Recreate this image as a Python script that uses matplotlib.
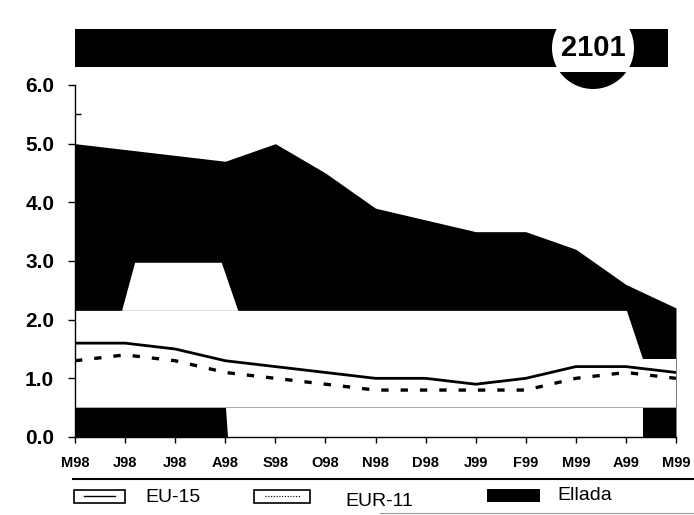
import matplotlib
matplotlib.use("Agg")
import matplotlib.pyplot as plt
from matplotlib.patches import Rectangle, Ellipse, Polygon
from matplotlib.lines import Line2D

plt.rcParams["font.family"] = ["Liberation Sans", "DejaVu Sans"]

months = ["M98", "J98", "J98", "A98", "S98", "O98", "N98", "D98",
          "J99", "F99", "M99", "A99", "M99"]
ellada = [5.0, 4.9, 4.8, 4.7, 5.0, 4.5, 3.9, 3.7, 3.5, 3.5, 3.2, 2.6, 2.2]
eu15 = [1.6, 1.6, 1.5, 1.3, 1.2, 1.1, 1.0, 1.0, 0.9, 1.0, 1.2, 1.2, 1.1]
eur11 = [1.3, 1.4, 1.3, 1.1, 1.0, 0.9, 0.8, 0.8, 0.8, 0.8, 1.0, 1.1, 1.0]
badge = "2101"

W, H = 694, 515
fig = plt.figure(figsize=(W / 100, H / 100), dpi=100)


def fx(px):
    return px / W


def fy(py):
    return 1 - py / H


ax = fig.add_axes([fx(75), fy(437), fx(676) - fx(75), fy(85) - fy(437)])
x = list(range(len(months)))

# Ellada as a solid black area
ax.fill_between(x, 0, ellada, color="black", lw=0, zorder=1)

# white patches left by the scan over the black area
ax.add_patch(Polygon([(0, 0.5), (12.2, 0.5), (12.2, 1.33), (11.34, 1.33),
                      (11.02, 2.15), (0, 2.15)], closed=True, fc="white", ec="none", zorder=2))
ax.add_patch(Polygon([(3.05, 0), (11.34, 0), (11.34, 0.5), (3.02, 0.5)],
                     closed=True, fc="white", ec="none", zorder=2))
ax.add_patch(Polygon([(0.94, 2.15), (3.26, 2.15), (2.93, 2.97), (1.2, 2.97)],
                     closed=True, fc="white", ec="none", zorder=2))

ax.plot(x, eu15, color="black", lw=2.0, zorder=3)
ax.plot(x, eur11, color="black", lw=2.4, dashes=(2.2, 3.6), zorder=3)

ax.set_xlim(0, 12)
ax.set_ylim(0, 6)
ax.set_yticks([0, 1, 2, 3, 4, 5, 6])
ax.set_yticklabels([f"{v:.1f}" for v in range(7)])
ax.set_yticks([0.5, 1.5, 2.5, 3.5, 4.5, 5.5], minor=True)
ax.set_xticks(x)
ax.set_xticklabels(months)
for s in ["top", "right"]:
    ax.spines[s].set_visible(False)
for s in ["left", "bottom"]:
    ax.spines[s].set_linewidth(1.0)
    ax.spines[s].set_zorder(4)
ax.tick_params(axis="y", which="major", direction="out", length=5, width=1,
               labelsize=15, pad=10)
ax.tick_params(axis="y", which="minor", direction="in", length=4, width=1)
ax.tick_params(axis="x", direction="out", length=4, width=1, labelsize=10.5, pad=10)
for lab in ax.get_xticklabels() + ax.get_yticklabels():
    lab.set_fontweight("bold")

# banner at the top with the page badge
fig.add_artist(Rectangle((fx(75), fy(67)), fx(668) - fx(75), fy(29) - fy(67),
                         transform=fig.transFigure, fc="black", ec="none"))
circ = Ellipse((fx(593), fy(48)), fx(82), 82 / H, transform=fig.transFigure,
               fc="white", ec="none")
fig.add_artist(circ)
seg = Rectangle((fx(550), fy(90)), fx(90), fy(72) - fy(90),
                transform=fig.transFigure, fc="black", ec="none")
fig.add_artist(seg)
seg.set_clip_path(circ)
fig.text(fx(593), fy(48), badge, ha="center", va="center",
         fontsize=21, fontweight="bold")

# legend
fig.add_artist(Line2D([fx(73), fx(694)], [fy(479), fy(479)], color="black", lw=1.5))
fig.add_artist(Line2D([fx(380), fx(694)], [fy(513), fy(513)], color="#999999", lw=0.8))
fig.add_artist(Rectangle((fx(74), fy(503)), fx(51), fy(490) - fy(503),
                         transform=fig.transFigure, fc="white", ec="black", lw=1.2))
fig.add_artist(Line2D([fx(84), fx(115)], [fy(496), fy(496)], color="black", lw=1.0))
fig.text(fx(145), fy(498), "EU-15", ha="left", va="center", fontsize=14)
fig.add_artist(Rectangle((fx(254), fy(503)), fx(56), fy(490) - fy(503),
                         transform=fig.transFigure, fc="white", ec="black", lw=1.2))
fig.add_artist(Line2D([fx(265), fx(300)], [fy(496), fy(496)], color="black", lw=0.8,
                      linestyle=(0, (1, 1.5))))
fig.text(fx(345), fy(501), "EUR-11", ha="left", va="center", fontsize=14)
fig.add_artist(Rectangle((fx(487), fy(502)), fx(53), fy(489) - fy(502),
                         transform=fig.transFigure, fc="black", ec="none"))
fig.text(fx(557), fy(496), "Ellada", ha="left", va="center", fontsize=14)

fig.savefig("out.png", dpi=100)
